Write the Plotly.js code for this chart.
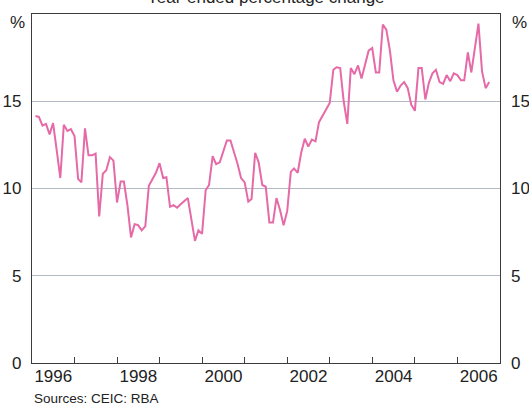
<!DOCTYPE html>
<html>
<head>
<meta charset="utf-8">
<script src="https://cdn.plot.ly/plotly-3.0.1.min.js"></script>
<style>html,body{margin:0;padding:0;background:#fff;}#chart{width:529px;height:408px;}</style>
</head>
<body>
<div id="chart"></div>
<script>
// Monthly year-ended percentage change, Jan 1996 - Sep 2006
const startYear = 1996;
const v1996 = [14.15, 14.1, 13.6, 13.7, 13.1, 13.75, 12.2, 10.6, 13.65, 13.3, 13.4, 13.0];
const v1997 = [10.55, 10.35, 13.45, 11.9, 11.9, 12.0, 8.4, 10.85, 11.05, 11.8, 11.6, 9.2];
const v1998 = [10.4, 10.4, 9.0, 7.2, 7.95, 7.9, 7.6, 7.85, 10.15, 10.5, 10.9, 11.45];
const v1999 = [10.6, 10.65, 8.95, 9.05, 8.9, 9.1, 9.25, 9.45, 8.25, 7.0, 7.6, 7.4];
const v2000 = [9.9, 10.2, 11.85, 11.4, 11.5, 12.15, 12.75, 12.75, 12.1, 11.4, 10.6, 10.35];
const v2001 = [9.25, 9.4, 12.05, 11.5, 10.2, 10.1, 8.05, 8.05, 9.45, 8.75, 7.9, 8.7];
const v2002 = [10.95, 11.15, 10.9, 12.05, 12.85, 12.4, 12.8, 12.7, 13.8, 14.15, 14.5, 14.9];
const v2003 = [16.8, 16.95, 16.9, 15.0, 13.7, 16.9, 16.55, 17.05, 16.3, 17.2, 17.9, 18.05];
const v2004 = [16.65, 16.65, 19.4, 19.1, 17.9, 16.2, 15.55, 15.9, 16.1, 15.75, 14.8, 14.45];
const v2005 = [16.9, 16.9, 15.1, 16.05, 16.6, 16.8, 16.1, 16.0, 16.5, 16.15, 16.6, 16.5];
const v2006 = [16.2, 16.2, 17.8, 16.65, 18.0, 19.45, 16.7, 15.75, 16.1];

const yTickVals = [0, 5, 10, 15];
const yTickText = ['0', '5', '10', '15'];
const xLabelYears = [1996, 1998, 2000, 2002, 2004, 2006];
const xTickYears = [1997, 1998, 1999, 2000, 2001, 2002, 2003, 2004, 2005, 2006];

const values = [].concat(v1996, v1997, v1998, v1999, v2000, v2001, v2002, v2003, v2004, v2005, v2006);

function pad(n){ return (n < 10 ? '0' : '') + n; }
// observation dated at the end of each month
const dates = values.map((_, i) => {
  const d = new Date(Date.UTC(startYear, i + 1, 0));
  return d.getUTCFullYear() + '-' + pad(d.getUTCMonth() + 1) + '-' + pad(d.getUTCDate());
});

const labelVals = xLabelYears.map(y => y + '-07-02');
const labelText = xLabelYears.map(String);
const yearStarts = xTickYears.map(y => y + '-01-01');

const frameColor = '#3c3c3c';
const font = '"Liberation Sans", Arial, Helvetica, sans-serif';
const xRange = ['1996-01-01', '2007-01-01'];

const trace = {
  x: dates, y: values, type: 'scatter', mode: 'lines',
  line: {color: '#e56aa7', width: 2}, hoverinfo: 'skip'
};
const traceR = {
  x: dates, y: values, type: 'scatter', mode: 'lines', xaxis: 'x2', yaxis: 'y2',
  line: {color: 'rgba(0,0,0,0)', width: 0}, hoverinfo: 'skip', showlegend: false
};

const layout = {
  width: 529, height: 408,
  margin: {l: 32, r: 29, t: 14, b: 45, pad: 0},
  paper_bgcolor: '#ffffff', plot_bgcolor: '#ffffff',
  showlegend: false,
  font: {family: font, size: 17, color: '#222222'},
  xaxis: {
    type: 'date', range: xRange,
    tickmode: 'array', tickvals: labelVals, ticktext: labelText,
    ticks: '', ticklabelstandoff: -3,
    showgrid: false, zeroline: false,
    showline: true, mirror: true, linecolor: frameColor, linewidth: 1.2,
    fixedrange: true
  },
  xaxis2: {
    type: 'date', range: xRange, overlaying: 'x', side: 'bottom',
    tickmode: 'array', tickvals: yearStarts, showticklabels: false,
    ticks: 'inside', ticklen: 6, tickwidth: 1, tickcolor: frameColor,
    showgrid: false, zeroline: false, showline: false, fixedrange: true
  },
  yaxis: {
    range: [0, 20], tickmode: 'array', tickvals: yTickVals, ticktext: yTickText,
    ticks: '', ticklabelstandoff: 6,
    showgrid: true, gridcolor: '#b3bac6', gridwidth: 1,
    zeroline: false, showline: true, mirror: true, linecolor: frameColor, linewidth: 1.2,
    fixedrange: true
  },
  yaxis2: {
    overlaying: 'y', side: 'right',
    range: [0, 20], tickmode: 'array', tickvals: yTickVals, ticktext: yTickText,
    ticks: '', ticklabelstandoff: 10,
    showgrid: false, zeroline: false, showline: false, fixedrange: true
  },
  annotations: [
    {text: 'Year-ended percentage change', xref: 'paper', yref: 'paper', x: 0.5, y: 1.046,
     xanchor: 'center', yanchor: 'middle', showarrow: false, font: {size: 17, color: '#222222'}},
    {text: '%', xref: 'paper', yref: 'paper', x: -0.032, y: 0.9756,
     xanchor: 'center', yanchor: 'middle', showarrow: false, font: {size: 17, color: '#222222'}},
    {text: '%', xref: 'paper', yref: 'paper', x: 1.0427, y: 0.9756,
     xanchor: 'center', yanchor: 'middle', showarrow: false, font: {size: 17, color: '#222222'}},
    {text: 'Sources: CEIC: RBA', xref: 'paper', yref: 'paper', x: 0, y: -0.103,
     xanchor: 'left', yanchor: 'middle', showarrow: false, font: {size: 13.5, color: '#222222'}}
  ]
};

Plotly.newPlot('chart', [trace, traceR], layout, {staticPlot: true, displayModeBar: false});
</script>
</body>
</html>
